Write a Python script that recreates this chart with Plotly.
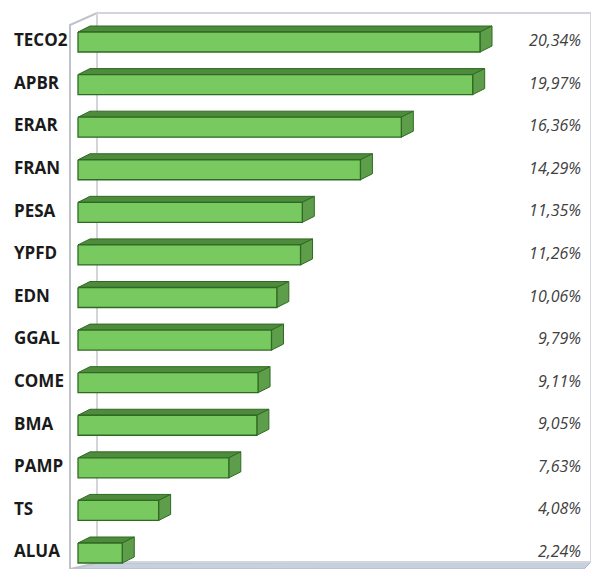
import plotly.graph_objects as go

categories = ["TECO2", "APBR", "ERAR", "FRAN", "PESA", "YPFD", "EDN", "GGAL",
              "COME", "BMA", "PAMP", "TS", "ALUA"]
values = [20.34, 19.97, 16.36, 14.29, 11.35, 11.26, 10.06, 9.79, 9.11, 9.05,
          7.63, 4.08, 2.24]
value_labels = ["20,34%", "19,97%", "16,36%", "14,29%", "11,35%", "11,26%",
                "10,06%", "9,79%", "9,11%", "9,05%", "7,63%", "4,08%", "2,24%"]

OFF = 8             # page body margin
W, H = 599 - 2 * OFF, 577 - 2 * OFF
X0 = 78.0 - OFF     # pixel of value 0 (figure coords)
XS = (480 - 78) / 20.34   # pixels per unit
Y0 = 42.0 - OFF     # pixel of first category
YS = (553 - 42) / 12.0    # pixels per category

x_range = [-X0 / XS, (W - X0) / XS]
y_range = [(H - Y0) / YS, -Y0 / YS]

half = 10.0 / YS       # half bar height
dx = 12.0 / XS         # depth offset in x
dy = 6.0 / YS          # depth offset in y


def px(x):
    return (x - OFF) / W


def py(y):
    return 1 - (y - OFF) / H


fig = go.Figure()

front_x, front_y, top_x, top_y, side_x, side_y = [], [], [], [], [], []
for i, v in enumerate(values):
    t, b = i - half, i + half
    front_x += [0, v, v, 0, 0, None]
    front_y += [t, t, b, b, t, None]
    top_x += [0, v, v + dx, dx, 0, None]
    top_y += [t, t, t - dy, t - dy, t, None]
    side_x += [v, v + dx, v + dx, v, v, None]
    side_y += [t, t - dy, b - dy, b, t, None]

line_col = "#2F6A22"
fig.add_trace(go.Scatter(x=top_x, y=top_y, fill="toself", mode="lines",
                         fillcolor="#4E8B3C", line=dict(color=line_col, width=1),
                         hoverinfo="skip", showlegend=False))
fig.add_trace(go.Scatter(x=side_x, y=side_y, fill="toself", mode="lines",
                         fillcolor="#5E9E4A", line=dict(color=line_col, width=1),
                         hoverinfo="skip", showlegend=False))
fig.add_trace(go.Scatter(x=front_x, y=front_y, fill="toself", mode="lines",
                         fillcolor="#79C961", line=dict(color=line_col, width=1.3),
                         hoverinfo="skip", showlegend=False))

# category labels (left aligned)
fig.add_trace(go.Scatter(
    x=[(14 - 78) / XS] * len(categories), y=list(range(len(categories))),
    text=["<b>%s</b>" % c for c in categories], mode="text",
    textposition="middle right",
    textfont=dict(family="Open Sans", size=17, color="#1a1a1a"),
    hoverinfo="skip", showlegend=False))

# value labels (right aligned)
fig.add_trace(go.Scatter(
    x=[(581 - 78) / XS] * len(values), y=list(range(len(values))),
    text=["<i>%s</i>" % s for s in value_labels], mode="text",
    textposition="middle left",
    textfont=dict(family="Open Sans", size=16, color="#404040"),
    hoverinfo="skip", showlegend=False))

shapes = []
wall = "#BFC3C9"
# floor
shapes.append(dict(type="path", xref="paper", yref="paper", layer="below",
                   path="M %f,%f L %f,%f L %f,%f L %f,%f Z" % (
                       px(97), py(563), px(591), py(562), px(584), py(569), px(70), py(569)),
                   fillcolor="#C7D0DF", line=dict(color="#AEB8C8", width=1)))
# left wall
shapes.append(dict(type="path", xref="paper", yref="paper", layer="below",
                   path="M %f,%f L %f,%f L %f,%f L %f,%f Z" % (
                       px(70), py(25), px(97), py(13), px(97), py(563), px(70), py(569)),
                   fillcolor="#FFFFFF", line=dict(color=wall, width=2)))
# back wall
shapes.append(dict(type="rect", xref="paper", yref="paper", layer="below",
                   x0=px(97), y0=py(562), x1=px(591), y1=py(13),
                   fillcolor="#FFFFFF", line=dict(color="#D2D5DA", width=2)))

fig.update_layout(
    width=W, height=H,
    margin=dict(l=0, r=0, t=0, b=0),
    paper_bgcolor="white", plot_bgcolor="rgba(0,0,0,0)",
    xaxis=dict(range=x_range, visible=False, fixedrange=True),
    yaxis=dict(range=y_range, visible=False, fixedrange=True),
    shapes=shapes,
    showlegend=False,
)

fig.write_html("out.html")
